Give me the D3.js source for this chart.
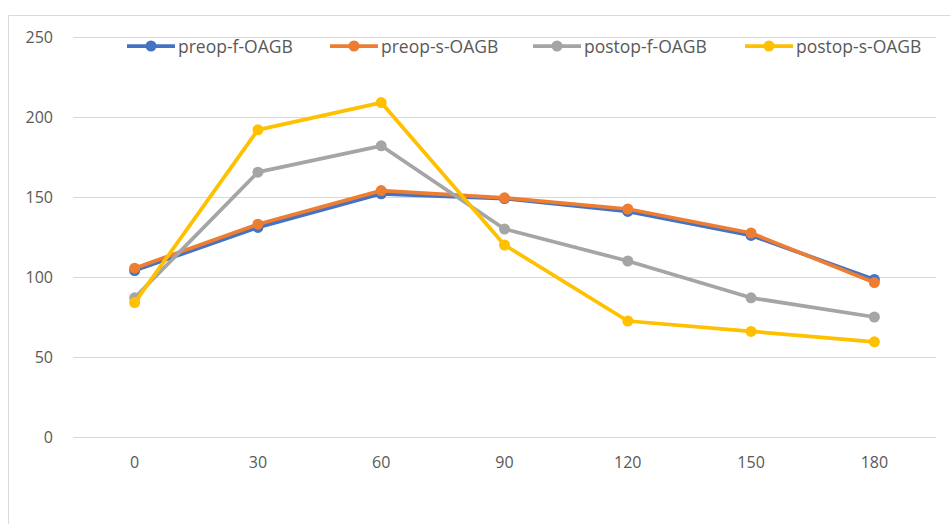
<!DOCTYPE html>
<html>
<head>
<meta charset="utf-8">
<script src="https://cdn.jsdelivr.net/npm/d3@7"></script>
<style>
  html, body { margin: 0; padding: 0; background: #fff; }
  svg { display: block; }
</style>
</head>
<body>
<svg id="chart" width="950" height="524"></svg>
<script>
// Time points (minutes) on the category axis
const categories = ["0", "30", "60", "90", "120", "150", "180"];
const yTicks = [0, 50, 100, 150, 200, 250];

const seriesNames = ["preop-f-OAGB", "preop-s-OAGB", "postop-f-OAGB", "postop-s-OAGB"];
const seriesColors = ["#4472C4", "#ED7D31", "#A5A5A5", "#FFC000"];

const preopF  = [104, 131, 152, 149, 141, 126, 98.5];
const preopS  = [105.5, 133, 154, 149.5, 142.5, 127.5, 96.5];
const postopF = [87, 165.5, 182, 130, 110, 87, 75];
const postopS = [84, 192, 209, 120, 72.5, 66, 59.5];
const seriesValues = [preopF, preopS, postopF, postopS];

const svg = d3.select("#chart");
const font = "'Open Sans', sans-serif";

// Outer frame of the chart area
svg.append("path")
  .attr("d", "M8.5,524 L8.5,15.5 L950,15.5")
  .attr("fill", "none")
  .attr("stroke", "#d9d9d9")
  .attr("stroke-width", 1);

const plotLeft = 73, plotRight = 936, plotTop = 37, plotBottom = 437;

const x = d3.scaleBand().domain(categories).range([plotLeft, plotRight]);
const y = d3.scaleLinear().domain([0, 250]).range([plotBottom, plotTop]);

// Horizontal gridlines
svg.append("g")
  .selectAll("line")
  .data(yTicks)
  .join("line")
  .attr("x1", plotLeft).attr("x2", plotRight)
  .attr("y1", d => y(d) + 0.5).attr("y2", d => y(d) + 0.5)
  .attr("stroke", "#d9d9d9")
  .attr("stroke-width", 1);

// Y axis labels
const yAxis = d3.axisLeft(y).tickValues(yTicks).tickSize(0).tickPadding(0);
const gy = svg.append("g").attr("transform", `translate(53,0)`).call(yAxis);
gy.select(".domain").remove();
gy.selectAll("text")
  .attr("font-family", font).attr("font-size", 16).attr("fill", "#595959");

// X axis labels
const xAxis = d3.axisBottom(x).tickSize(0).tickPadding(0);
const gx = svg.append("g").attr("transform", `translate(0,${plotBottom + 20})`).call(xAxis);
gx.select(".domain").remove();
gx.selectAll("text")
  .attr("font-family", font).attr("font-size", 16).attr("fill", "#595959");

// Series lines with round markers
const line = d3.line()
  .x((d, i) => x(categories[i]) + x.bandwidth() / 2)
  .y(d => y(d));

seriesValues.forEach((vals, s) => {
  const g = svg.append("g");
  g.append("path")
    .datum(vals)
    .attr("d", line)
    .attr("fill", "none")
    .attr("stroke", seriesColors[s])
    .attr("stroke-width", 3.75)
    .attr("stroke-linejoin", "round");
  g.selectAll("circle")
    .data(vals)
    .join("circle")
    .attr("cx", (d, i) => x(categories[i]) + x.bandwidth() / 2)
    .attr("cy", d => y(d))
    .attr("r", 5.5)
    .attr("fill", seriesColors[s]);
});

// Legend
const legendX = [127, 330, 533, 745];
const legend = svg.append("g");
seriesNames.forEach((name, s) => {
  const lg = legend.append("g").attr("transform", `translate(${legendX[s]},46)`);
  lg.append("line")
    .attr("x1", 0).attr("x2", 48).attr("y1", 0).attr("y2", 0)
    .attr("stroke", seriesColors[s]).attr("stroke-width", 3.75);
  lg.append("circle").attr("cx", 24).attr("cy", 0).attr("r", 5.5).attr("fill", seriesColors[s]);
  lg.append("text")
    .attr("x", 51).attr("y", 6.5)
    .attr("font-family", font).attr("font-size", 17.5).attr("fill", "#595959")
    .text(name);
});
</script>
</body>
</html>
